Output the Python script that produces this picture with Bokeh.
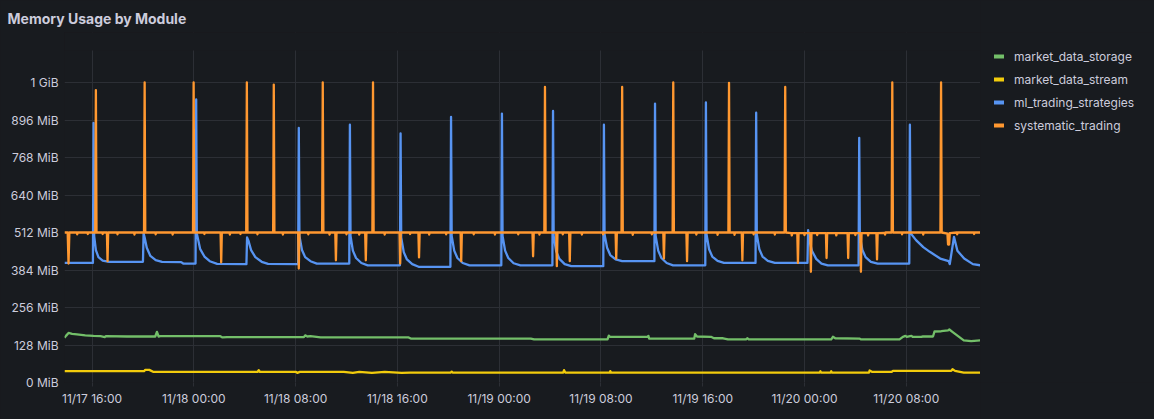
import pandas as pd
from bokeh.plotting import figure
from bokeh.layouts import row
from bokeh.models import (Range1d, FixedTicker, DatetimeTickFormatter, Legend,
                          LegendItem, ColumnDataSource, BoxAnnotation)
from bokeh.embed import file_html
from bokeh.resources import INLINE

YEAR = "2024-"

# ---------------- data (MiB) ----------------
x_start = "11-17 13:50"
x_end = "11-20 13:50"
x_tick_times = ["11-17 16:00", "11-18 00:00", "11-18 08:00", "11-18 16:00",
                "11-19 00:00", "11-19 08:00", "11-19 16:00", "11-20 00:00",
                "11-20 08:00"]
y_ticks = [0, 128, 256, 384, 512, 640, 768, 896, 1024]
y_tick_labels = ["0 MiB", "128 MiB", "256 MiB", "384 MiB", "512 MiB",
                 "640 MiB", "768 MiB", "896 MiB", "1 GiB"]

series_names = ["market_data_storage", "market_data_stream",
                "ml_trading_strategies", "systematic_trading"]
series_colors = ["#73BF69", "#F2CC0C", "#5794F2", "#FF9830"]

market_data_storage = [
    ("11-17 13:50", 153), ("11-17 13:58", 160), ("11-17 14:09", 169),
    ("11-17 14:26", 166), ("11-17 14:49", 164), ("11-17 15:28", 161),
    ("11-17 16:07", 159), ("11-17 16:40", 158), ("11-17 17:00", 155),
    ("11-17 17:05", 158), ("11-17 18:45", 157), ("11-17 20:58", 157),
    ("11-17 21:06", 173), ("11-17 21:14", 157), ("11-17 21:22", 158),
    ("11-18 00:31", 158), ("11-18 02:05", 158), ("11-18 02:15", 154),
    ("11-18 02:37", 155), ("11-18 08:39", 155), ("11-18 08:45", 161),
    ("11-18 08:55", 157), ("11-18 09:10", 158), ("11-18 09:58", 154),
    ("11-18 16:53", 154), ("11-18 17:03", 150), ("11-19 02:29", 150),
    ("11-19 02:45", 147), ("11-19 08:31", 147), ("11-19 08:37", 160),
    ("11-19 08:42", 156), ("11-19 11:40", 156), ("11-19 11:44", 159),
    ("11-19 11:47", 150), ("11-19 15:20", 150), ("11-19 15:24", 165),
    ("11-19 15:33", 157), ("11-19 16:39", 156), ("11-19 16:53", 151),
    ("11-19 17:36", 151), ("11-19 17:59", 147), ("11-19 19:24", 147),
    ("11-19 19:30", 151), ("11-19 19:38", 147), ("11-20 02:06", 147),
    ("11-20 02:14", 156), ("11-20 02:25", 151), ("11-20 04:19", 150),
    ("11-20 04:27", 147), ("11-20 07:28", 147), ("11-20 07:44", 156),
    ("11-20 07:56", 159), ("11-20 08:02", 156), ("11-20 08:24", 159),
    ("11-20 08:30", 156), ("11-20 09:10", 156), ("11-20 09:18", 157),
    ("11-20 10:06", 157), ("11-20 10:13", 174), ("11-20 10:45", 175),
    ("11-20 11:17", 178), ("11-20 11:23", 181), ("11-20 11:39", 172),
    ("11-20 12:31", 144), ("11-20 13:06", 141), ("11-20 13:50", 144),
]

market_data_stream = [
    ("11-17 13:50", 38.6), ("11-17 20:05", 38.6), ("11-17 20:11", 43),
    ("11-17 20:30", 43), ("11-17 20:50", 36), ("11-18 05:00", 36),
    ("11-18 05:06", 42), ("11-18 05:12", 36), ("11-18 08:02", 36),
    ("11-18 08:08", 32.8), ("11-18 08:20", 36), ("11-18 11:47", 36),
    ("11-18 12:30", 33), ("11-18 13:00", 36), ("11-18 14:00", 33),
    ("11-18 15:00", 36), ("11-18 16:20", 33), ("11-18 17:00", 34),
    ("11-18 20:12", 34), ("11-18 20:16", 37), ("11-18 20:20", 34),
    ("11-19 05:02", 34), ("11-19 05:06", 42), ("11-19 05:12", 34),
    ("11-19 08:42", 34), ("11-19 08:44", 38.6), ("11-19 08:48", 34),
    ("11-20 01:12", 34), ("11-20 01:15", 38.6), ("11-20 01:18", 34),
    ("11-20 02:03", 34), ("11-20 02:06", 38.6), ("11-20 02:09", 34),
    ("11-20 05:04", 34), ("11-20 05:07", 41), ("11-20 05:20", 36),
    ("11-20 06:50", 36), ("11-20 06:57", 39.6), ("11-20 11:32", 39.6),
    ("11-20 11:38", 45.4), ("11-20 11:50", 39.6), ("11-20 12:31", 34),
    ("11-20 13:50", 34),
]

ml_trading_strategies = [
    ("11-17 13:50", 408), ("11-17 16:04", 408), ("11-17 16:07", 886),
    ("11-17 16:10", 500), ("11-17 16:18", 452), ("11-17 16:30", 428),
    ("11-17 16:50", 416), ("11-17 17:20", 412),
    ("11-17 20:00", 412), ("11-17 20:03", 509), ("11-17 20:08", 495),
    ("11-17 20:18", 460), ("11-17 20:35", 432), ("11-17 21:00", 418),
    ("11-17 21:30", 412), ("11-17 23:00", 411), ("11-17 23:10", 406),
    ("11-18 00:08", 406), ("11-18 00:11", 966), ("11-18 00:14", 509),
    ("11-18 00:30", 455), ("11-18 00:50", 430), ("11-18 01:15", 414),
    ("11-18 01:50", 405),
    ("11-18 04:08", 404), ("11-18 04:11", 495), ("11-18 04:17", 485),
    ("11-18 04:30", 452), ("11-18 04:50", 428), ("11-18 05:20", 412),
    ("11-18 05:50", 405),
    ("11-18 08:12", 404), ("11-18 08:15", 869), ("11-18 08:18", 500),
    ("11-18 08:30", 452), ("11-18 08:45", 428), ("11-18 09:10", 414),
    ("11-18 09:40", 406),
    ("11-18 12:13", 406), ("11-18 12:16", 880), ("11-18 12:19", 500),
    ("11-18 12:30", 450), ("11-18 12:45", 425), ("11-18 13:10", 408),
    ("11-18 13:40", 400),
    ("11-18 16:12", 400), ("11-18 16:15", 850), ("11-18 16:18", 495),
    ("11-18 16:30", 445), ("11-18 16:45", 420), ("11-18 17:10", 404),
    ("11-18 17:40", 395),
    ("11-18 20:10", 395), ("11-18 20:13", 907), ("11-18 20:16", 500),
    ("11-18 20:28", 450), ("11-18 20:43", 425), ("11-18 21:08", 408),
    ("11-18 21:40", 400),
    ("11-19 00:10", 400), ("11-19 00:13", 918), ("11-19 00:16", 500),
    ("11-19 00:28", 450), ("11-19 00:43", 425), ("11-19 01:08", 407),
    ("11-19 01:40", 400),
    ("11-19 04:11", 400), ("11-19 04:14", 927), ("11-19 04:17", 500),
    ("11-19 04:29", 448), ("11-19 04:44", 422), ("11-19 05:09", 404),
    ("11-19 05:40", 397),
    ("11-19 08:11", 397), ("11-19 08:14", 880), ("11-19 08:17", 505),
    ("11-19 08:29", 460), ("11-19 08:44", 435), ("11-19 09:09", 420),
    ("11-19 09:40", 414),
    ("11-19 12:12", 414), ("11-19 12:15", 952), ("11-19 12:18", 500),
    ("11-19 12:30", 450), ("11-19 12:45", 425), ("11-19 13:10", 408),
    ("11-19 13:40", 400),
    ("11-19 16:12", 400), ("11-19 16:15", 956), ("11-19 16:18", 505),
    ("11-19 16:30", 455), ("11-19 16:45", 430), ("11-19 17:10", 415),
    ("11-19 17:40", 408),
    ("11-19 20:09", 408), ("11-19 20:12", 921), ("11-19 20:15", 505),
    ("11-19 20:27", 455), ("11-19 20:42", 430), ("11-19 21:07", 415),
    ("11-19 21:40", 408),
    ("11-20 00:14", 408), ("11-20 00:17", 520), ("11-20 00:22", 490),
    ("11-20 00:35", 450), ("11-20 00:55", 422), ("11-20 01:20", 406),
    ("11-20 01:50", 400),
    ("11-20 04:15", 400), ("11-20 04:18", 835), ("11-20 04:21", 500),
    ("11-20 04:33", 452), ("11-20 04:48", 428), ("11-20 05:13", 412),
    ("11-20 05:45", 406),
    ("11-20 08:14", 406), ("11-20 08:17", 880), ("11-20 08:20", 510),
    ("11-20 08:46", 486), ("11-20 09:20", 462), ("11-20 09:51", 446),
    ("11-20 10:40", 423), ("11-20 11:20", 414), ("11-20 11:25", 404),
    ("11-20 11:45", 497), ("11-20 12:01", 450), ("11-20 12:33", 423),
    ("11-20 13:14", 404), ("11-20 13:50", 400),
]

systematic_trading = [
    ("11-17 13:50", 512),
    ("11-17 14:05", 512), ("11-17 14:09", 406), ("11-17 14:13", 512),
    ("11-17 14:48", 512), ("11-17 14:50", 506), ("11-17 14:52", 512),
    ("11-17 15:38", 512), ("11-17 15:40", 507), ("11-17 15:42", 512),
    ("11-17 16:15", 512), ("11-17 16:18", 998), ("11-17 16:21", 512),
    ("11-17 16:48", 512), ("11-17 16:50", 507), ("11-17 16:52", 512),
    ("11-17 17:10", 512), ("11-17 17:13", 414), ("11-17 17:16", 512),
    ("11-17 17:58", 512), ("11-17 18:00", 506), ("11-17 18:02", 512),
    ("11-17 19:18", 512), ("11-17 19:20", 505), ("11-17 19:22", 512),
    ("11-17 20:05", 512), ("11-17 20:08", 1024), ("11-17 20:11", 512),
    ("11-17 20:58", 512), ("11-17 21:00", 506), ("11-17 21:02", 512),
    ("11-17 22:18", 512), ("11-17 22:20", 505), ("11-17 22:22", 512),
    ("11-17 23:56", 512), ("11-17 23:59", 1024), ("11-18 00:02", 512),
    ("11-18 00:48", 512), ("11-18 00:50", 507), ("11-18 00:52", 512),
    ("11-18 02:06", 512), ("11-18 02:09", 410), ("11-18 02:12", 512),
    ("11-18 02:48", 512), ("11-18 02:50", 505), ("11-18 02:52", 512),
    ("11-18 03:38", 512), ("11-18 03:40", 507), ("11-18 03:42", 512),
    ("11-18 04:07", 512), ("11-18 04:10", 1024), ("11-18 04:13", 512),
    ("11-18 04:58", 512), ("11-18 05:00", 506), ("11-18 05:02", 512),
    ("11-18 06:14", 512), ("11-18 06:17", 1017), ("11-18 06:20", 512),
    ("11-18 06:58", 512), ("11-18 07:00", 505), ("11-18 07:02", 512),
    ("11-18 08:12", 512), ("11-18 08:15", 389), ("11-18 08:18", 512),
    ("11-18 08:58", 512), ("11-18 09:00", 506), ("11-18 09:02", 512),
    ("11-18 10:05", 512), ("11-18 10:08", 1024), ("11-18 10:11", 512),
    ("11-18 10:38", 512), ("11-18 10:40", 505), ("11-18 10:42", 512),
    ("11-18 11:07", 512), ("11-18 11:10", 417), ("11-18 11:13", 512),
    ("11-18 11:58", 512), ("11-18 12:00", 506), ("11-18 12:02", 512),
    ("11-18 12:58", 512), ("11-18 13:00", 505), ("11-18 13:02", 512),
    ("11-18 13:28", 512), ("11-18 13:31", 417), ("11-18 13:34", 512),
    ("11-18 14:02", 512), ("11-18 14:05", 1024), ("11-18 14:08", 512),
    ("11-18 14:58", 512), ("11-18 15:00", 505), ("11-18 15:02", 512),
    ("11-18 16:10", 512), ("11-18 16:13", 406), ("11-18 16:16", 512),
    ("11-18 16:58", 512), ("11-18 17:00", 507), ("11-18 17:02", 512),
    ("11-18 17:39", 512), ("11-18 17:42", 427), ("11-18 17:45", 512),
    ("11-18 18:28", 512), ("11-18 18:30", 505), ("11-18 18:32", 512),
    ("11-18 19:48", 512), ("11-18 19:50", 506), ("11-18 19:52", 512),
    ("11-18 20:58", 512), ("11-18 21:01", 414), ("11-18 21:04", 512),
    ("11-18 21:58", 512), ("11-18 22:00", 506), ("11-18 22:02", 512),
    ("11-18 23:38", 512), ("11-18 23:40", 505), ("11-18 23:42", 512),
    ("11-19 01:28", 512), ("11-19 01:30", 506), ("11-19 01:32", 512),
    ("11-19 02:37", 512), ("11-19 02:40", 431), ("11-19 02:43", 512),
    ("11-19 03:08", 512), ("11-19 03:10", 505), ("11-19 03:12", 512),
    ("11-19 03:33", 512), ("11-19 03:36", 1009), ("11-19 03:39", 512),
    ("11-19 04:29", 512), ("11-19 04:32", 397), ("11-19 04:35", 512),
    ("11-19 04:58", 512), ("11-19 05:00", 506), ("11-19 05:02", 512),
    ("11-19 05:30", 512), ("11-19 05:33", 414), ("11-19 05:36", 512),
    ("11-19 06:28", 512), ("11-19 06:30", 505), ("11-19 06:32", 512),
    ("11-19 08:08", 512), ("11-19 08:10", 506), ("11-19 08:12", 512),
    ("11-19 09:09", 512), ("11-19 09:12", 423), ("11-19 09:15", 512),
    ("11-19 09:37", 512), ("11-19 09:40", 1009), ("11-19 09:43", 512),
    ("11-19 10:28", 512), ("11-19 10:30", 504), ("11-19 10:32", 512),
    ("11-19 11:58", 512), ("11-19 12:00", 506), ("11-19 12:02", 512),
    ("11-19 12:54", 512), ("11-19 12:57", 423), ("11-19 13:00", 512),
    ("11-19 13:38", 512), ("11-19 13:41", 1024), ("11-19 13:44", 512),
    ("11-19 14:43", 512), ("11-19 14:46", 414), ("11-19 14:49", 512),
    ("11-19 15:28", 512), ("11-19 15:30", 505), ("11-19 15:32", 512),
    ("11-19 17:08", 512), ("11-19 17:10", 504), ("11-19 17:12", 512),
    ("11-19 18:01", 512), ("11-19 18:04", 1023), ("11-19 18:07", 512),
    ("11-19 18:28", 512), ("11-19 18:30", 504), ("11-19 18:32", 512),
    ("11-19 19:04", 512), ("11-19 19:07", 417), ("11-19 19:10", 512),
    ("11-19 19:58", 512), ("11-19 20:00", 506), ("11-19 20:02", 512),
    ("11-19 21:38", 512), ("11-19 21:40", 505), ("11-19 21:42", 512),
    ("11-19 22:26", 512), ("11-19 22:29", 1009), ("11-19 22:32", 512),
    ("11-19 22:58", 510), ("11-19 23:00", 502), ("11-19 23:02", 510),
    ("11-19 23:26", 510), ("11-19 23:29", 408), ("11-19 23:32", 510),
    ("11-19 23:58", 510), ("11-20 00:00", 503), ("11-20 00:02", 510),
    ("11-20 00:27", 510), ("11-20 00:30", 378), ("11-20 00:33", 510),
    ("11-20 00:58", 510), ("11-20 01:00", 503), ("11-20 01:02", 510),
    ("11-20 01:41", 510), ("11-20 01:44", 425), ("11-20 01:47", 510),
    ("11-20 02:28", 510), ("11-20 02:30", 502), ("11-20 02:32", 510),
    ("11-20 03:23", 510), ("11-20 03:26", 425), ("11-20 03:29", 510),
    ("11-20 03:58", 510), ("11-20 04:00", 503), ("11-20 04:02", 510),
    ("11-20 04:23", 510), ("11-20 04:26", 378), ("11-20 04:29", 510),
    ("11-20 04:58", 510), ("11-20 05:00", 502), ("11-20 05:02", 510),
    ("11-20 05:39", 510), ("11-20 05:42", 420), ("11-20 05:45", 510),
    ("11-20 06:18", 511), ("11-20 06:20", 505), ("11-20 06:22", 512),
    ("11-20 06:51", 512), ("11-20 06:54", 1024), ("11-20 06:57", 512),
    ("11-20 07:38", 512), ("11-20 07:40", 506), ("11-20 07:42", 512),
    ("11-20 09:18", 512), ("11-20 09:20", 505), ("11-20 09:22", 512),
    ("11-20 10:41", 512), ("11-20 10:44", 1024), ("11-20 10:47", 512),
    ("11-20 11:14", 508), ("11-20 11:17", 471), ("11-20 11:22", 471),
    ("11-20 11:25", 510),
    ("11-20 11:58", 512), ("11-20 12:00", 506), ("11-20 12:02", 512),
    ("11-20 13:18", 512), ("11-20 13:20", 507), ("11-20 13:22", 512),
    ("11-20 13:50", 512),
]

all_series = [market_data_storage, market_data_stream,
              ml_trading_strategies, systematic_trading]


def ms(s):
    return pd.Timestamp(YEAR + s).value / 1e6


# ---------------- styling ----------------
BG = "#181b1f"
GRID = "#2c2f35"
TEXT = "#ccccdc"
FONT = "Inter"
Y_TOP = 1194.67        # top of the plot frame (MiB)
GRID_TOP = 1133        # vertical grid lines stop here, as in the panel

p = figure(width=980, height=419, x_axis_type="datetime",
           output_backend="svg", toolbar_location=None,
           x_range=Range1d(ms(x_start), ms(x_end)),
           y_range=Range1d(0, Y_TOP),
           min_border_left=64, min_border_right=0,
           min_border_top=32, min_border_bottom=37)
p.background_fill_color = BG
p.border_fill_color = BG
p.outline_line_color = None

p.title.text = "Memory Usage by Module"
p.title.text_font = FONT
p.title.text_font_size = "14px"
p.title.text_font_style = "bold"
p.title.text_color = TEXT
p.title.align = "left"
p.title.offset = -57
p.title.standoff = 12

# axes
p.yaxis.ticker = FixedTicker(ticks=y_ticks)
p.yaxis.major_label_overrides = dict(zip(y_ticks, y_tick_labels))
p.xaxis.ticker = FixedTicker(ticks=[ms(t) for t in x_tick_times])
fmt = "%m/%d %H:%M"
p.xaxis.formatter = DatetimeTickFormatter(
    microseconds=fmt, milliseconds=fmt, seconds=fmt, minsec=fmt,
    minutes=fmt, hourmin=fmt, hours=fmt, days=fmt, months=fmt, years=fmt)

for ax in (p.xaxis, p.yaxis):
    ax.axis_line_color = None
    ax.minor_tick_line_color = None
    ax.major_label_text_color = TEXT
    ax.major_label_text_font = FONT
    ax.major_label_text_font_size = "12px"
p.yaxis.major_tick_line_color = None
p.yaxis.major_tick_in = 0
p.yaxis.major_tick_out = 0
p.yaxis.major_label_standoff = 6
p.xaxis.major_tick_line_color = GRID
p.xaxis.major_tick_in = 0
p.xaxis.major_tick_out = 4
p.xaxis.major_label_standoff = 4

p.xgrid.grid_line_color = GRID
p.ygrid.grid_line_color = GRID

# mask the top strip of the frame so the vertical grid stops below it
p.add_layout(BoxAnnotation(bottom=GRID_TOP, fill_color=BG, fill_alpha=1.0,
                           line_alpha=0, level="underlay"))

# lines
for name, color, data in zip(series_names, series_colors, all_series):
    src = ColumnDataSource(dict(t=[ms(s) for s, _ in data],
                                v=[v for _, v in data]))
    p.line("t", "v", source=src, line_color=color, line_width=2.3,
           line_join="round")

# ---------------- legend panel (right of the plot area) ----------------
q = figure(width=174, height=419, output_backend="svg",
           toolbar_location=None, x_axis_location=None,
           y_axis_location=None, x_range=Range1d(0, 1),
           y_range=Range1d(0, 1), min_border_left=0, min_border_right=0,
           min_border_top=0, min_border_bottom=0)
q.background_fill_color = BG
q.border_fill_color = BG
q.outline_line_color = None
q.grid.visible = False

items = []
for name, color in zip(series_names, series_colors):
    swatch = q.line(x=[-5], y=[-5], line_color=color, line_width=4,
                    line_cap="round")
    items.append(LegendItem(label=name, renderers=[swatch]))

legend = Legend(items=items, location=(14, 247), orientation="vertical",
                background_fill_alpha=0, border_line_alpha=0,
                label_text_color=TEXT, label_text_font=FONT,
                label_text_font_size="12px", glyph_width=10,
                glyph_height=20, label_height=20, spacing=3, padding=0,
                margin=0, label_standoff=10)
q.add_layout(legend)

layout = row(p, q, spacing=0, styles={"background-color": BG})
open("out.html", "w").write(file_html(layout, INLINE))
